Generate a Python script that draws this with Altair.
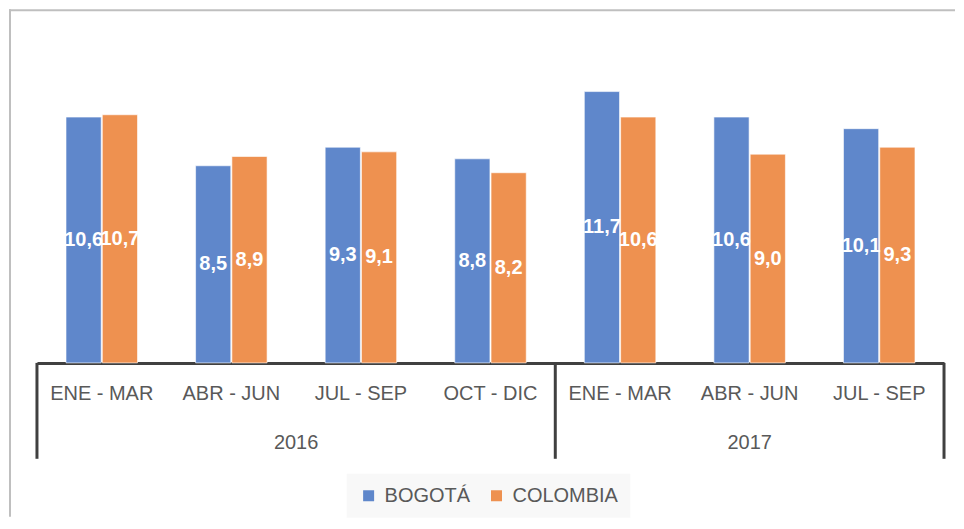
import altair as alt
import pandas as pd

# ---- data ----
years = ["2016", "2016", "2016", "2016", "2017", "2017", "2017"]
quarters = ["ENE - MAR", "ABR - JUN", "JUL - SEP", "OCT - DIC", "ENE - MAR", "ABR - JUN", "JUL - SEP"]
bogota = [10.6, 8.5, 9.3, 8.8, 11.7, 10.6, 10.1]
colombia = [10.7, 8.9, 9.1, 8.2, 10.6, 9.0, 9.3]
series = ["BOGOTÁ", "COLOMBIA"]
colors = ["#5F87CB", "#EE9150"]

keys = [f"{y}|{q}" for y, q in zip(years, quarters)]
rows = []
for k, y, q, b, c in zip(keys, years, quarters, bogota, colombia):
    rows.append({"key": k, "year": y, "quarter": q, "series": series[0], "value": b})
    rows.append({"key": k, "year": y, "quarter": q, "series": series[1], "value": c})
df = pd.DataFrame(rows)

W, H = 908, 325
FONT = "Liberation Sans"
GREY = "#595959"
LINE = "#404040"

xscale = alt.Scale(domain=keys, paddingInner=0, paddingOuter=0)
xoff = alt.XOffset("series:N", sort=series,
                   scale=alt.Scale(paddingOuter=0.8, paddingInner=0.03))
yscale = alt.Scale(domain=[0, 14], nice=False)

base = alt.Chart(df)

bars = base.mark_bar(stroke="white", strokeWidth=1, strokeOpacity=0.6).encode(
    x=alt.X("key:N", sort=keys, scale=xscale,
            axis=alt.Axis(title=None, labelExpr="split(datum.label, '|')[1]",
                          labelAngle=0, labelFontSize=20, labelFont=FONT,
                          labelColor=GREY, labelPadding=21, ticks=False,
                          domainColor=LINE, domainWidth=3)),
    xOffset=xoff,
    y=alt.Y("value:Q", scale=yscale, axis=None),
    color=alt.Color("series:N", sort=series,
                    scale=alt.Scale(domain=series, range=colors),
                    legend=alt.Legend(title=None, orient="none", legendX=310, legendY=436,
                                      direction="horizontal", symbolType="square",
                                      symbolSize=121, symbolStrokeWidth=0,
                                      symbolOpacity=1,
                                      labelFontSize=20, labelFont=FONT, labelColor=GREY,
                                      labelOffset=6, columnPadding=16,
                                      padding=12, fillColor="#F8F8F8")),
)

labels = base.transform_calculate(
    mid="datum.value / 2",
    txt="replace(format(datum.value, '.1f'), '.', ',')",
).mark_text(color="white", fontWeight="bold", fontSize=20, font=FONT,
            baseline="middle", align="center").encode(
    x=alt.X("key:N", sort=keys, scale=xscale),
    xOffset=xoff,
    y=alt.Y("mid:Q", scale=yscale),
    text="txt:N",
)

# group divider lines of the two-level category axis
div_start = pd.DataFrame({"key": [keys[0], keys[4]]})
div_end = pd.DataFrame({"key": [keys[-1]]})
rule_start = alt.Chart(div_start).mark_rule(color=LINE, strokeWidth=3).encode(
    x=alt.X("key:N", sort=keys, scale=xscale, bandPosition=0),
    y=alt.datum(0, scale=yscale), y2=alt.value(H + 96),
)
rule_end = alt.Chart(div_end).mark_rule(color=LINE, strokeWidth=3).encode(
    x=alt.X("key:N", sort=keys, scale=xscale, bandPosition=1),
    y=alt.datum(0, scale=yscale), y2=alt.value(H + 96),
)

# year labels
y2016 = alt.Chart(pd.DataFrame({"key": [keys[2]], "year": ["2016"]})).mark_text(
    fontSize=20, font=FONT, color=GREY, baseline="middle").encode(
    x=alt.X("key:N", sort=keys, scale=xscale, bandPosition=0),
    y=alt.value(H + 80), text="year:N")
y2017 = alt.Chart(pd.DataFrame({"key": [keys[5]], "year": ["2017"]})).mark_text(
    fontSize=20, font=FONT, color=GREY, baseline="middle").encode(
    x=alt.X("key:N", sort=keys, scale=xscale, bandPosition=0.5),
    y=alt.value(H + 80), text="year:N")

# chart-area border (top and left edges visible)
border_top = alt.Chart(pd.DataFrame({"a": [0]})).mark_rule(color="#BFBFBF", strokeWidth=2).encode(
    x=alt.value(-28), x2=alt.value(W + 11), y=alt.value(-28))
border_left = alt.Chart(pd.DataFrame({"a": [0]})).mark_rule(color="#BFBFBF", strokeWidth=2).encode(
    x=alt.value(-27), y=alt.value(-29), y2=alt.value(H + 154))

chart = alt.layer(bars, labels, rule_start, rule_end, y2016, y2017, border_top, border_left).properties(
    width=W, height=H, background="white",
    padding={"left": 0, "top": 0, "right": 0, "bottom": 0},
).configure_view(stroke=None)

chart.save("out.html", embed_options={"renderer": "svg", "actions": False})
